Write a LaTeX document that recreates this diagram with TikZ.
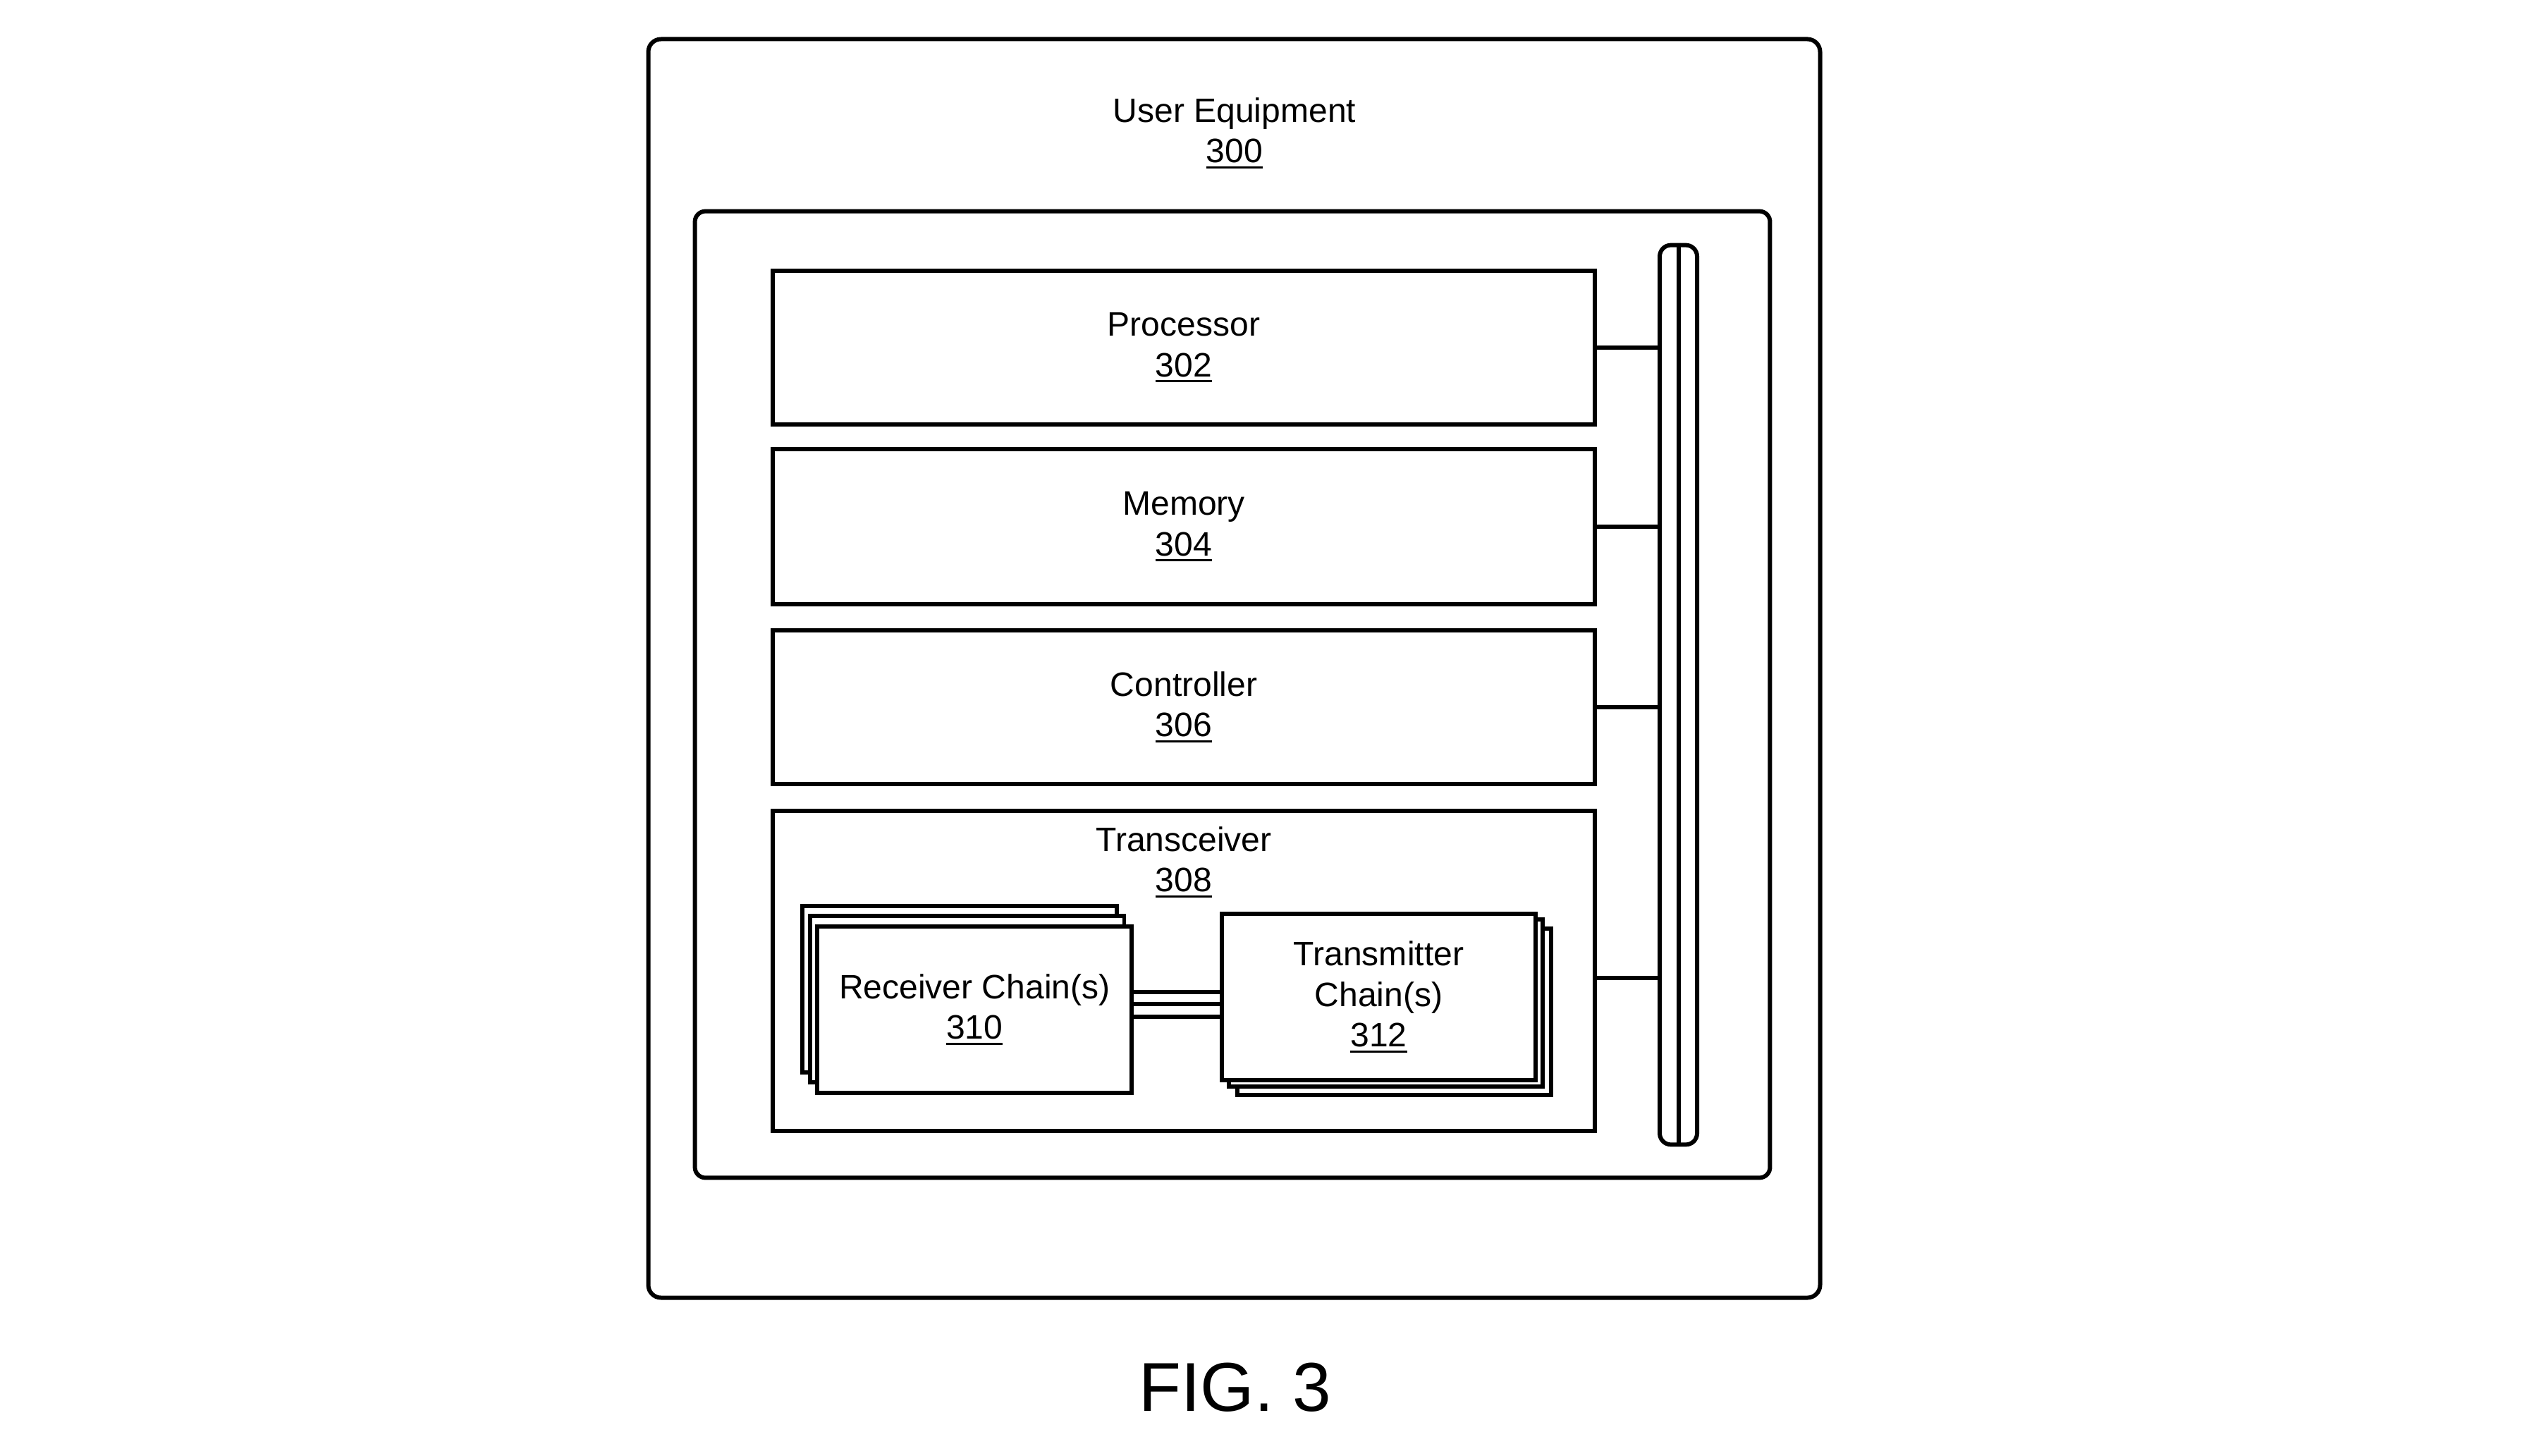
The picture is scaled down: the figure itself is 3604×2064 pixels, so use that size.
\documentclass[tikz,border=0pt]{standalone}
\usepackage{fontspec}
\setmainfont{Liberation Sans}
\newcommand\ulnum[1]{\setbox0=\hbox{#1}\rlap{\vrule height -0.104em depth 0.173em width \wd0}\box0}
\newcommand\lbl{\fontsize{13.66}{16.3}\selectfont}
\begin{document}
\begin{tikzpicture}[x=0.01cm,y=-0.01cm,line width=1.7pt,
  box/.style={draw,fill=white,inner sep=0pt,align=center,font=\lbl,minimum width=11.66cm},
  stack/.style={draw,fill=white,inner sep=0pt,minimum width=4.455cm,minimum height=2.36cm},
  txt/.style={inner sep=0pt,align=center,font=\lbl}]
\useasboundingbox (0,0) rectangle (3604,2064);
% outer and inner frames
\node[draw,rounded corners=0.18cm,minimum width=16.61cm,minimum height=17.84cm] (ue) at (1750.5,948) {};
\node[txt] (uelbl) at (1751,189) {User Equipment\\\ulnum{300}};
\node[draw,rounded corners=0.15cm,minimum width=15.24cm,minimum height=13.70cm] (inner) at (1748,985) {};
% blocks
\node[box,minimum height=2.18cm] (proc) at (1679,493) {Processor\\\ulnum{302}};
\node[box,minimum height=2.20cm] (mem) at (1679,747) {Memory\\\ulnum{304}};
\node[box,minimum height=2.18cm] (ctrl) at (1679,1003) {Controller\\\ulnum{306}};
\node[box,minimum height=4.54cm] (trx) at (1679,1377) {};
\node[txt] (trxlbl) at (1679,1223) {Transceiver\\\ulnum{308}};
% bus
\node[draw,rounded corners=0.16cm,minimum width=0.53cm,minimum height=12.75cm,inner sep=0pt] (bus) at (2380.5,985.5) {};
\draw (bus.north) -- (bus.south);
\draw (proc.east) -- (proc.east -| bus.west);
\draw (mem.east) -- (mem.east -| bus.west);
\draw (ctrl.east) -- (ctrl.east -| bus.west);
\coordinate (tj) at (2262,1386.5);
\draw (trx.east |- tj) -- (tj -| bus.west);
% receiver chains
\node[stack] (rx3) at (1360.8,1402.7) {};
\node[stack] (rx2) at (1371.6,1417.2) {};
\node[stack,align=center,font=\lbl] (rx) at (1382.3,1431.7) {Receiver Chain(s)\\\ulnum{310}};
% transmitter chains
\node[stack] (tx3) at (1977.5,1435) {};
\node[stack] (tx2) at (1965.5,1422.5) {};
\node[stack,align=center,font=\lbl] (tx) at (1955.5,1414) {Transmitter\\Chain(s)\\\ulnum{312}};
% links between chains
\coordinate (l1) at (1600,1407);
\coordinate (l2) at (1600,1424);
\coordinate (l3) at (1600,1442);
\draw (l1 -| rx.east) -- (l1 -| tx.west);
\draw (l2 -| rx.east) -- (l2 -| tx.west);
\draw (l3 -| rx.east) -- (l3 -| tx.west);
% caption
\node[inner sep=0pt,anchor=base,font=\fontsize{27.9}{33}\selectfont] (fig) at (1752,2001.7) {FIG. 3};
\end{tikzpicture}
\end{document}
